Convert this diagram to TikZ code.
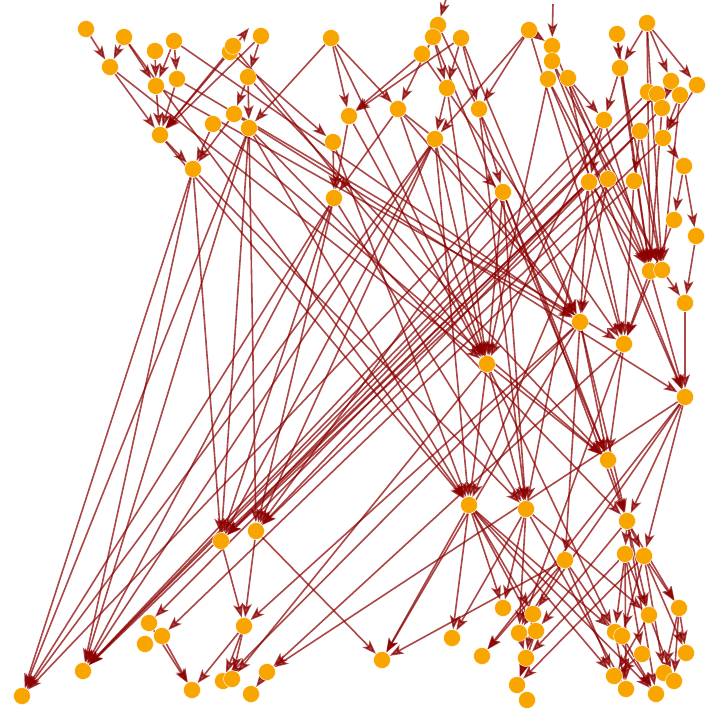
\documentclass[tikz,border=0pt]{standalone}
\usepackage{tikz}
\usetikzlibrary{arrows.meta,backgrounds}
\usepackage{xcolor}
\definecolor{vtxorange}{RGB}{248,165,0}
\definecolor{linkred}{RGB}{139,0,0}

\begin{document}
\begin{tikzpicture}[
    x=1pt, y=-1pt,
    vtx/.style={circle, fill=vtxorange, draw=white, line width=0.4pt, inner sep=0pt, minimum size=17pt},
    link/.style={draw=linkred, opacity=0.72, line width=1.6pt,
        -{Stealth[length=14pt, width=10pt, inset=3.5pt]}}
]
    \useasboundingbox (0,0) rectangle (720,722);

    % Top rows
    \node[vtx] (v1) at (86,29) {};
    \node[vtx] (v2) at (124,37) {};
    \node[vtx] (v3) at (110,67) {};
    \node[vtx] (v4) at (155,51) {};
    \node[vtx] (v5) at (174,41) {};
    \node[vtx] (v6) at (156,86) {};
    \node[vtx] (v7) at (177,79) {};
    \node[vtx] (v8) at (160,135) {};
    \node[vtx] (v9) at (193,169) {};
    \node[vtx] (v10) at (213,124) {};
    \node[vtx] (v11) at (234,114) {};
    \node[vtx] (v12) at (249,128) {};
    \node[vtx] (v13) at (230,52) {};
    \node[vtx] (v14) at (233,46) {};
    \node[vtx] (v15) at (261,36) {};
    \node[vtx] (v16) at (248,77) {};
    \node[vtx] (v17) at (331,38) {};
    \node[vtx] (v18) at (349,116) {};
    \node[vtx] (v19) at (333,142) {};
    \node[vtx] (v20) at (334,198) {};
    \node[vtx] (v21) at (438,25) {};
    \node[vtx] (v22) at (433,37) {};
    \node[vtx] (v23) at (461,38) {};
    \node[vtx] (v24) at (422,54) {};
    \node[vtx] (v25) at (447,88) {};
    \node[vtx] (v26) at (398,109) {};
    \node[vtx] (v27) at (479,109) {};
    \node[vtx] (v28) at (435,139) {};
    \node[vtx] (v29) at (503,192) {};
    \node[vtx] (v30) at (529,30) {};
    \node[vtx] (v31) at (552,46) {};
    \node[vtx] (v32) at (552,61) {};
    \node[vtx] (v33) at (548,79) {};
    \node[vtx] (v34) at (568,78) {};
    \node[vtx] (v35) at (617,34) {};
    \node[vtx] (v36) at (647,23) {};
    \node[vtx] (v37) at (620,68) {};
    \node[vtx] (v38) at (671,81) {};
    \node[vtx] (v39) at (697,85) {};
    \node[vtx] (v40) at (648,92) {};
    \node[vtx] (v41) at (657,94) {};
    \node[vtx] (v42) at (680,95) {};
    \node[vtx] (v43) at (662,108) {};
    \node[vtx] (v44) at (604,120) {};
    \node[vtx] (v45) at (640,131) {};
    \node[vtx] (v46) at (663,138) {};
    \node[vtx] (v47) at (684,166) {};

    % Middle
    \node[vtx] (v48) at (589,182) {};
    \node[vtx] (v49) at (608,179) {};
    \node[vtx] (v50) at (634,181) {};
    \node[vtx] (v51) at (674,220) {};
    \node[vtx] (v52) at (696,236) {};
    \node[vtx] (v53) at (650,271) {};
    \node[vtx] (v54) at (662,270) {};
    \node[vtx] (v55) at (685,303) {};
    \node[vtx] (v56) at (580,322) {};
    \node[vtx] (v57) at (624,344) {};
    \node[vtx] (v58) at (487,364) {};
    \node[vtx] (v59) at (685,397) {};
    \node[vtx] (v60) at (608,460) {};

    % Bottom left
    \node[vtx] (v61) at (22,696) {};
    \node[vtx] (v62) at (83,671) {};
    \node[vtx] (v63) at (221,541) {};
    \node[vtx] (v64) at (256,531) {};
    \node[vtx] (v65) at (149,623) {};
    \node[vtx] (v66) at (162,636) {};
    \node[vtx] (v67) at (145,644) {};
    \node[vtx] (v68) at (244,626) {};
    \node[vtx] (v69) at (192,690) {};
    \node[vtx] (v70) at (223,681) {};
    \node[vtx] (v71) at (232,679) {};
    \node[vtx] (v72) at (267,672) {};
    \node[vtx] (v73) at (251,694) {};

    % Bottom right
    \node[vtx] (v74) at (469,505) {};
    \node[vtx] (v75) at (526,509) {};
    \node[vtx] (v76) at (627,521) {};
    \node[vtx] (v77) at (565,560) {};
    \node[vtx] (v78) at (625,554) {};
    \node[vtx] (v79) at (644,556) {};
    \node[vtx] (v80) at (382,660) {};
    \node[vtx] (v81) at (452,638) {};
    \node[vtx] (v82) at (482,656) {};
    \node[vtx] (v83) at (503,608) {};
    \node[vtx] (v84) at (533,614) {};
    \node[vtx] (v85) at (519,633) {};
    \node[vtx] (v86) at (536,631) {};
    \node[vtx] (v87) at (526,658) {};
    \node[vtx] (v88) at (517,685) {};
    \node[vtx] (v89) at (527,700) {};
    \node[vtx] (v90) at (615,632) {};
    \node[vtx] (v91) at (622,636) {};
    \node[vtx] (v92) at (649,615) {};
    \node[vtx] (v93) at (679,608) {};
    \node[vtx] (v94) at (642,654) {};
    \node[vtx] (v95) at (686,653) {};
    \node[vtx] (v96) at (614,676) {};
    \node[vtx] (v97) at (626,689) {};
    \node[vtx] (v98) at (664,673) {};
    \node[vtx] (v99) at (674,681) {};
    \node[vtx] (v100) at (656,694) {};

    % loose ends at the top
    \coordinate (t1) at (447,-4);
    \coordinate (t2) at (553,4);
    \coordinate (t3) at (249,28);

    \begin{pgfonlayer}{background}
    % Top internal
    \draw[link] (t1) -- (v21);
    \draw[link] (t2) -- (v31);
    \draw[link] (v13) -- (t3);
    \draw[link] (v1) -- (v3);
    \draw[link] (v2) -- (v3);
    \draw[link] (v2) -- (v6);
    \draw[link] (v4) -- (v6);
    \draw[link] (v5) -- (v6);
    \draw[link] (v5) -- (v7);
    \draw[link] (v6) -- (v8);
    \draw[link] (v7) -- (v8);
    \draw[link] (v3) -- (v8);
    \draw[link] (v8) -- (v9);
    \draw[link] (v10) -- (v9);
    \draw[link] (v11) -- (v9);
    \draw[link] (v13) -- (v8);
    \draw[link] (v14) -- (v8);
    \draw[link] (v15) -- (v8);
    \draw[link] (v15) -- (v16);
    \draw[link] (v16) -- (v11);
    \draw[link] (v16) -- (v12);
    \draw[link] (v13) -- (v19);
    \draw[link] (v17) -- (v18);
    \draw[link] (v17) -- (v26);
    \draw[link] (v17) -- (v12);
    \draw[link] (v19) -- (v20);
    \draw[link] (v18) -- (v20);
    \draw[link] (v26) -- (v20);
    \draw[link] (v24) -- (v18);
    \draw[link] (v23) -- (v18);
    \draw[link] (v22) -- (v26);
    \draw[link] (v22) -- (v25);
    \draw[link] (v23) -- (v25);
    \draw[link] (v23) -- (v27);
    \draw[link] (v25) -- (v28);
    \draw[link] (v30) -- (v28);
    \draw[link] (v30) -- (v27);
    \draw[link] (v27) -- (v29);
    \draw[link] (v26) -- (v29);
    \draw[link] (v30) -- (v31);
    \draw[link] (v34) -- (v44);
    \draw[link] (v35) -- (v37);
    \draw[link] (v36) -- (v37);
    \draw[link] (v36) -- (v38);
    \draw[link] (v36) -- (v39);
    \draw[link] (v37) -- (v44);
    \draw[link] (v39) -- (v46);
    \draw[link] (v42) -- (v46);
    \draw[link] (v46) -- (v47);
    \draw[link] (v47) -- (v51);
    \draw[link] (v47) -- (v52);
    \draw[link] (v44) -- (v48);
    \draw[link] (v45) -- (v50);
    \draw[link] (v38) -- (v43);

    % Into the right hub
    \draw[link] (v35) -- (v53);
    \draw[link] (v36) -- (v53);
    \draw[link] (v36) -- (v54);
    \draw[link] (v37) -- (v53);
    \draw[link] (v37) -- (v54);
    \draw[link] (v33) -- (v53);
    \draw[link] (v34) -- (v54);
    \draw[link] (v44) -- (v53);
    \draw[link] (v45) -- (v54);
    \draw[link] (v43) -- (v53);
    \draw[link] (v42) -- (v54);
    \draw[link] (v31) -- (v53);
    \draw[link] (v32) -- (v54);
    \draw[link] (v48) -- (v53);

    % Right column
    \draw[link] (v54) -- (v55);
    \draw[link] (v52) -- (v55);
    \draw[link] (v55) -- (v59);
    \draw[link] (v53) -- (v57);
    \draw[link] (v51) -- (v57);
    \draw[link] (v48) -- (v56);
    \draw[link] (v49) -- (v56);
    \draw[link] (v50) -- (v57);
    \draw[link] (v53) -- (v59);
    \draw[link] (v33) -- (v59);
    \draw[link] (v57) -- (v60);
    \draw[link] (v56) -- (v60);
    \draw[link] (v58) -- (v60);
    \draw[link] (v60) -- (v76);
    \draw[link] (v59) -- (v76);
    \draw[link] (v56) -- (v76);
    \draw[link] (v76) -- (v78);
    \draw[link] (v76) -- (v79);
    \draw[link] (v59) -- (v79);

    % Top left down to the right
    \draw[link] (v3) -- (v58);
    \draw[link] (v6) -- (v56);
    \draw[link] (v7) -- (v57);
    \draw[link] (v8) -- (v74);
    \draw[link] (v9) -- (v75);
    \draw[link] (v10) -- (v60);
    \draw[link] (v11) -- (v59);
    \draw[link] (v12) -- (v76);
    \draw[link] (v12) -- (v74);
    \draw[link] (v14) -- (v58);
    \draw[link] (v16) -- (v60);
    \draw[link] (v5) -- (v56);
    \draw[link] (v2) -- (v74);

    % Top middle down
    \draw[link] (v17) -- (v58);
    \draw[link] (v18) -- (v58);
    \draw[link] (v19) -- (v74);
    \draw[link] (v20) -- (v75);
    \draw[link] (v26) -- (v56);
    \draw[link] (v26) -- (v58);
    \draw[link] (v25) -- (v58);
    \draw[link] (v23) -- (v56);
    \draw[link] (v24) -- (v57);
    \draw[link] (v22) -- (v60);
    \draw[link] (v27) -- (v75);
    \draw[link] (v28) -- (v58);
    \draw[link] (v28) -- (v56);
    \draw[link] (v29) -- (v58);
    \draw[link] (v29) -- (v60);
    \draw[link] (v29) -- (v76);
    \draw[link] (v32) -- (v59);
    \draw[link] (v34) -- (v57);
    \draw[link] (v30) -- (v57);
    \draw[link] (v21) -- (v56);
    \draw[link] (v33) -- (v58);
    \draw[link] (v44) -- (v58);
    \draw[link] (v29) -- (v75);
    \draw[link] (v28) -- (v74);
    \draw[link] (v48) -- (v75);
    \draw[link] (v49) -- (v74);

    % Long ones down to the left
    \draw[link] (v9) -- (v61);
    \draw[link] (v9) -- (v62);
    \draw[link] (v9) -- (v63);
    \draw[link] (v12) -- (v61);
    \draw[link] (v12) -- (v62);
    \draw[link] (v12) -- (v63);
    \draw[link] (v12) -- (v64);
    \draw[link] (v20) -- (v61);
    \draw[link] (v20) -- (v62);
    \draw[link] (v20) -- (v63);
    \draw[link] (v20) -- (v64);
    \draw[link] (v28) -- (v61);
    \draw[link] (v28) -- (v62);
    \draw[link] (v28) -- (v63);
    \draw[link] (v28) -- (v64);
    \draw[link] (v29) -- (v61);
    \draw[link] (v29) -- (v64);
    \draw[link] (v40) -- (v62);
    \draw[link] (v41) -- (v62);
    \draw[link] (v41) -- (v63);
    \draw[link] (v43) -- (v64);
    \draw[link] (v44) -- (v62);
    \draw[link] (v45) -- (v63);
    \draw[link] (v46) -- (v64);
    \draw[link] (v48) -- (v62);
    \draw[link] (v49) -- (v63);
    \draw[link] (v48) -- (v65);
    \draw[link] (v50) -- (v66);
    \draw[link] (v56) -- (v68);
    \draw[link] (v56) -- (v80);
    \draw[link] (v57) -- (v72);
    \draw[link] (v59) -- (v72);
    \draw[link] (v58) -- (v71);
    \draw[link] (v56) -- (v70);

    % Bottom left
    \draw[link] (v63) -- (v68);
    \draw[link] (v64) -- (v68);
    \draw[link] (v64) -- (v80);
    \draw[link] (v65) -- (v69);
    \draw[link] (v66) -- (v69);
    \draw[link] (v68) -- (v69);
    \draw[link] (v68) -- (v70);
    \draw[link] (v68) -- (v71);
    \draw[link] (v72) -- (v73);
    \draw[link] (v74) -- (v80);
    \draw[link] (v77) -- (v80);

    % Bottom right
    \draw[link] (v58) -- (v74);
    \draw[link] (v58) -- (v75);
    \draw[link] (v56) -- (v77);
    \draw[link] (v74) -- (v81);
    \draw[link] (v74) -- (v83);
    \draw[link] (v74) -- (v84);
    \draw[link] (v74) -- (v86);
    \draw[link] (v74) -- (v90);
    \draw[link] (v74) -- (v96);
    \draw[link] (v74) -- (v100);
    \draw[link] (v75) -- (v81);
    \draw[link] (v75) -- (v83);
    \draw[link] (v75) -- (v85);
    \draw[link] (v75) -- (v92);
    \draw[link] (v75) -- (v97);
    \draw[link] (v77) -- (v82);
    \draw[link] (v77) -- (v85);
    \draw[link] (v77) -- (v96);
    \draw[link] (v77) -- (v100);
    \draw[link] (v76) -- (v92);
    \draw[link] (v76) -- (v93);
    \draw[link] (v76) -- (v100);
    \draw[link] (v78) -- (v90);
    \draw[link] (v78) -- (v92);
    \draw[link] (v78) -- (v94);
    \draw[link] (v78) -- (v97);
    \draw[link] (v79) -- (v91);
    \draw[link] (v79) -- (v93);
    \draw[link] (v79) -- (v95);
    \draw[link] (v79) -- (v98);
    \draw[link] (v92) -- (v96);
    \draw[link] (v92) -- (v99);
    \draw[link] (v93) -- (v98);
    \draw[link] (v93) -- (v95);
    \draw[link] (v93) -- (v99);
    \draw[link] (v90) -- (v97);
    \draw[link] (v91) -- (v100);
    \draw[link] (v94) -- (v96);
    \draw[link] (v84) -- (v87);
    \draw[link] (v85) -- (v87);
    \draw[link] (v87) -- (v88);
    \draw[link] (v86) -- (v88);
    \draw[link] (v59) -- (v82);
    \draw[link] (v59) -- (v84);
    \draw[link] (v76) -- (v86);
    \draw[link] (v78) -- (v87);
    \draw[link] (v79) -- (v88);
    \draw[link] (v57) -- (v85);
    \draw[link] (v58) -- (v90);
    \end{pgfonlayer}
\end{tikzpicture}
\end{document}
